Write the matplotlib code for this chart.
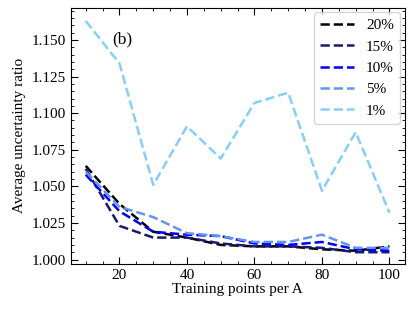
import numpy as np
import matplotlib.pyplot as plt

plt.rcParams["font.family"] = ["Liberation Serif", "DejaVu Serif"]
plt.rcParams["mathtext.fontset"] = "stix"

points = [10, 20, 30, 40, 50, 60, 70, 80, 90, 100]
labels = ["20%", "15%", "10%", "5%", "1%"]
colors = ["black", "#191970", "blue", "cornflowerblue", "lightskyblue"]
r20 = [1.064, 1.038, 1.019, 1.015, 1.010, 1.009, 1.009, 1.007, 1.006, 1.009]
r15 = [1.062, 1.023, 1.015, 1.015, 1.011, 1.009, 1.009, 1.008, 1.005, 1.005]
r10 = [1.058, 1.033, 1.019, 1.017, 1.016, 1.011, 1.010, 1.012, 1.007, 1.006]
r5 = [1.060, 1.036, 1.029, 1.018, 1.016, 1.012, 1.012, 1.017, 1.008, 1.008]
r1 = [1.163, 1.134, 1.051, 1.091, 1.069, 1.107, 1.114, 1.047, 1.087, 1.032]
series = [r20, r15, r10, r5, r1]

fig = plt.figure(figsize=(4.15, 3.12), dpi=100)
ax = fig.add_subplot(1, 1, 1)
for vals, lab, col in zip(series, labels, colors):
    ax.plot(points, vals, "--", color=col, lw=1.8, label=lab)

ax.set_xlim(5.5, 104.5)
ax.set_ylim(0.9972, 1.172)
ax.set_xticks([20, 40, 60, 80, 100])
ax.set_yticks(np.arange(1.0, 1.151, 0.025))
ax.set_yticklabels(["%.3f" % v for v in np.arange(1.0, 1.151, 0.025)])
ax.minorticks_on()
ax.tick_params(which="both", direction="in", top=True, right=True, labelsize=11)
ax.tick_params(which="major", length=5)
ax.tick_params(which="minor", length=2.5)
ax.set_xlabel("Training points per A", fontsize=11, labelpad=1)
ax.set_ylabel("Average uncertainty ratio", fontsize=11)
ax.text(0.125, 0.86, "(b)", transform=ax.transAxes, fontsize=12.5)
ax.legend(loc="upper right", fontsize=11, handlelength=2.2, borderaxespad=0.3)

fig.subplots_adjust(left=0.17, right=0.975, top=0.975, bottom=0.155)
fig.savefig("out.png", dpi=100)
